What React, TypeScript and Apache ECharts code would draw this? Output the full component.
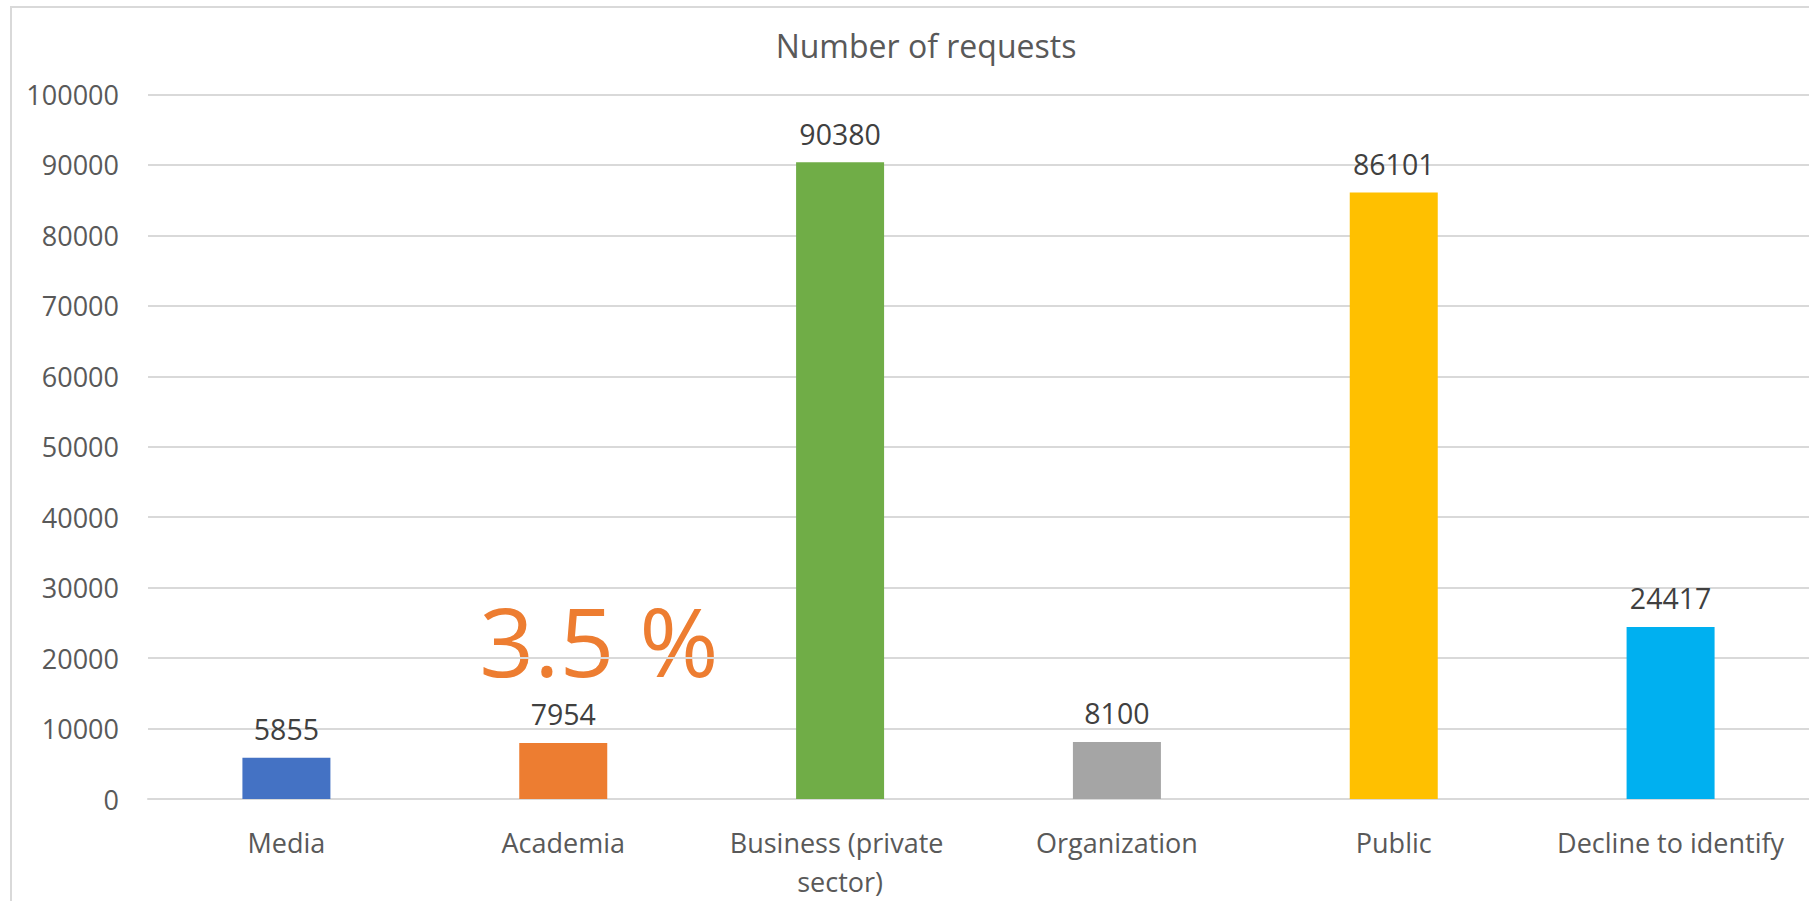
import React, { useEffect, useRef } from "react";
import * as echarts from "echarts";

const categories = ["Media", "Academia", "Business (private sector)", "Organization", "Public", "Decline to identify"];
const requests = [5855, 7954, 90380, 8100, 86101, 24417];
const barColors = ["#4472C4", "#ED7D31", "#70AD47", "#A5A5A5", "#FFC000", "#00B0F0"];
const titleText = "Number of requests";
const annotationText = "3.5 %";

const FONT = "'Open Sans', 'Noto Sans', sans-serif";
const TXT = "#595959";

export default function App() {
  const ref = useRef<HTMLDivElement>(null);
  useEffect(() => {
    if (!ref.current) return;
    const chart = echarts.init(ref.current, null, { renderer: "svg" });
    chart.setOption({
      animation: false,
      backgroundColor: "#ffffff",
      textStyle: { fontFamily: FONT },
      title: {
        text: titleText,
        left: 921,
        top: 40,
        textAlign: "center",
        textVerticalAlign: "middle",
        textStyle: { fontFamily: FONT, fontSize: 32, fontWeight: "normal", color: TXT },
      },
      grid: { left: 148, top: 94.5, width: 1662, height: 705, containLabel: false },
      xAxis: {
        type: "category",
        data: categories,
        axisLine: { show: true, lineStyle: { color: "#D9D9D9", width: 2 } },
        axisTick: { show: false },
        axisLabel: {
          color: TXT,
          fontFamily: FONT,
          fontSize: 27,
          margin: 24,
          lineHeight: 39,
          width: 260,
          overflow: "break",
          interval: 0,
        },
      },
      yAxis: {
        type: "value",
        min: 0,
        max: 100000,
        interval: 10000,
        axisLine: { show: false },
        axisTick: { show: false },
        splitLine: { lineStyle: { color: "#D9D9D9", width: 2 } },
        axisLabel: {
          color: TXT,
          fontFamily: FONT,
          fontSize: 27,
          margin: 29,
          formatter: (v: number) => String(v),
        },
      },
      series: [
        {
          type: "bar",
          data: requests.map((v, i) => ({ value: v, itemStyle: { color: barColors[i] } })),
          barWidth: 88,
          label: {
            show: true,
            position: "top",
            distance: 14,
            color: "#404040",
            fontFamily: FONT,
            fontSize: 28.5,
          },
        },
      ],
      graphic: [
        {
          type: "rect",
          shape: { x: 11, y: 7, width: 1900, height: 1000 },
          style: { fill: "none", stroke: "#D9D9D9", lineWidth: 2 },
          silent: true,
        },
        {
          type: "text",
          x: 599,
          y: 639,
          style: {
            text: annotationText,
            fill: "#ED7D31",
            font: `96px ${FONT}`,
            lineHeight: 74,
            textAlign: "center",
            textVerticalAlign: "middle",
          },
        },
      ],
    });
    return () => chart.dispose();
  }, []);
  return <div ref={ref} style={{ position: "fixed", left: 0, top: 0, width: 1809, height: 901 }} />;
}
